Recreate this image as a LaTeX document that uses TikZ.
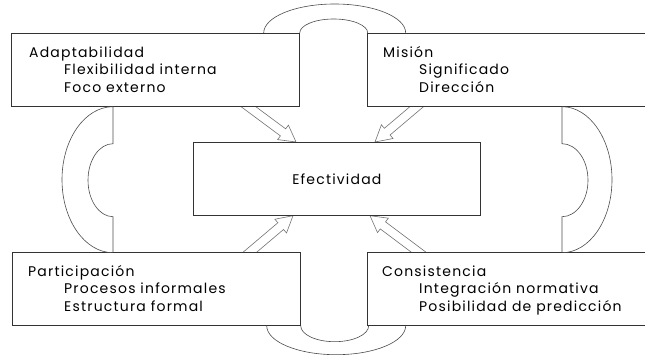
\documentclass[tikz,border=0pt]{standalone}
\usepackage{fontspec}
\setmainfont[LetterSpace=8.5]{Poppins}
\usetikzlibrary{calc, positioning, backgrounds}

\tikzset{
	box/.style={draw=black!80, fill=white, line width=0.7pt, minimum width=288pt, minimum height=73pt, anchor=north west, inner sep=0pt, font=\fontsize{14}{17.7}\selectfont},
	boxtext/.style={align=left, anchor=base west, inner sep=0pt, font=\fontsize{14}{17.7}\selectfont},
	band/.style={draw=black!70, line width=0.6pt},
	hollow/.style={draw=black!55, fill=white, line width=0.6pt, line join=miter},
}

% hollow block arrow from #1 to the tip #2
\newcommand{\hollowarrow}[2]{%
	\draw[hollow] let \p1=($(#2)-(#1)$), \n1={atan2(\y1,\x1)}, \n2={veclen(\x1,\y1)-16pt} in
		($(#1)+(\n1+90:4.4pt)$) -- ++(\n1:\n2) -- ++(\n1+90:4.6pt) -- (#2)
		-- ($(#1)+(\n1:\n2)+(\n1-90:9pt)$) -- ++(\n1+90:4.6pt) -- ($(#1)+(\n1-90:4.4pt)$);
}

\begin{document}
\begin{tikzpicture}[x=1pt, y=1pt]
	\useasboundingbox (0,0) rectangle (645,358);
	
	% boxes
	\node[box] (adapt) at (11,325) {};
	\node[box, minimum width=279pt] (mision) at (367,325) {};
	\node[box, minimum width=287pt] (efect) at (193,216) {Efectividad};
	\node[box] (partic) at (12,106) {};
	\node[box, minimum width=279pt] (consis) at (367,106) {};
	
	% texts (base = last line)
	\node[boxtext, below right=59.5pt and 18pt of adapt.north west, anchor=base west] (adapttxt)
		{Adaptabilidad\\\hspace*{35pt}Flexibilidad interna\\\hspace*{35pt}Foco externo};
	\node[boxtext, below right=59.5pt and 16pt of mision.north west, anchor=base west] (misiontxt)
		{Misión\\\hspace*{36pt}Significado\\\hspace*{36pt}Dirección};
	\node[boxtext, below right=59.5pt and 16pt of partic.north west, anchor=base west] (partictxt)
		{Participación\\\hspace*{36pt}Procesos informales\\\hspace*{36pt}Estructura formal};
	\node[boxtext, below right=59.5pt and 15pt of consis.north west, anchor=base west] (consistxt)
		{Consistencia\\\hspace*{37pt}Integración normativa\\\hspace*{37pt}Posibilidad de predicción};
	
	% arrows into the centre
	\coordinate (a1) at (237.8,259.2);
	\coordinate (a2) at (426,259.2);
	\coordinate (a3) at (241.4,98.6);
	\coordinate (a4) at (428.2,98.6);
	\coordinate (t1) at ([xshift=103pt]efect.north west);
	\coordinate (t2) at ([xshift=182pt]efect.north west);
	\coordinate (t3) at ([xshift=100pt]efect.south west);
	\coordinate (t4) at ([xshift=177pt]efect.south west);
	\begin{scope}[on background layer]
		\hollowarrow{a1}{t1}
		\hollowarrow{a2}{t2}
		\hollowarrow{a3}{t3}
		\hollowarrow{a4}{t4}
	\end{scope}
	
	% bands between the boxes
	\draw[band] ([xshift=-36pt]adapt.north east) arc[start angle=180, end angle=0, x radius=71, y radius=29];
	\draw[band] (adapt.north east) arc[start angle=180, end angle=0, x radius=34, y radius=14];
	\draw[band] ([xshift=-34pt]partic.south east) arc[start angle=180, end angle=360, x radius=69.5, y radius=29];
	\draw[band] (partic.south east) arc[start angle=180, end angle=360, x radius=34, y radius=16];
	
	\coordinate (l1) at ([xshift=102pt]adapt.south west);
	\coordinate (l2) at ([xshift=101pt]partic.north west);
	\draw[band] (l1) -- ++(0,-37) arc[start angle=90, end angle=270, x radius=25, y radius=36.5] -- (l2);
	\draw[band] (l1) arc[start angle=90, end angle=270, x radius=51, y radius=73];
	
	\coordinate (r1) at ([xshift=195pt]mision.south west);
	\coordinate (r2) at ([xshift=195pt]consis.north west);
	\draw[band] (r1) -- ++(0,-37) arc[start angle=90, end angle=-90, x radius=26, y radius=36.5] -- (r2);
	\draw[band] (r1) arc[start angle=90, end angle=-90, x radius=50, y radius=73];
\end{tikzpicture}
\end{document}
